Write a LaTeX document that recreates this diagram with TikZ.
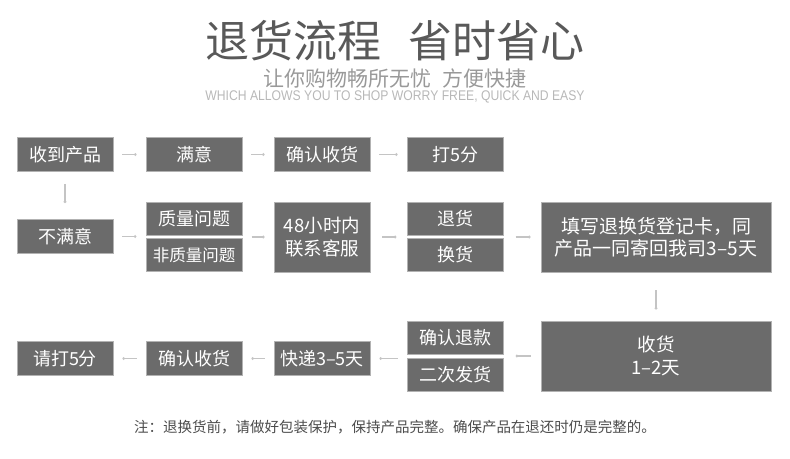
\documentclass[tikz,border=0pt]{standalone}
\usepackage{fontspec}
\newfontfamily\cjk{Noto Sans CJK SC}
\newfontfamily\engfont[FakeStretch=0.87]{Liberation Sans}
\usetikzlibrary{arrows.meta,fit}
\definecolor{boxgray}{HTML}{6B6B6B}
\definecolor{linegray}{HTML}{C4C4C4}
\tikzset{
  flowbox/.style={draw=black!30, line width=0.6pt, fill=boxgray, text=white,
    minimum width=96pt, minimum height=34pt, inner sep=0pt, align=center,
    font=\cjk\fontsize{18}{23}\selectfont},
  widebox/.style={flowbox, minimum width=230pt, minimum height=70pt,
    font=\cjk\fontsize{19}{22}\selectfont},
  link/.style={draw=linegray, line width=1.1pt,
    -{Straight Barb[length=1pt,width=2.5pt]}, shorten <=9pt, shorten >=9pt},
}

\begin{document}
\begin{tikzpicture}[x=1pt,y=-1pt]
\useasboundingbox (0,0) rectangle (790,458);
% heading
\node[text=black!65, font=\cjk\fontsize{44}{44}\selectfont] (title) at (395,41) {退货流程\hspace{28pt}省时省心};
\node[text=black!40, font=\cjk\fontsize{21}{21}\selectfont] (subtitle) at (395,78) {让你购物畅所无忧\hspace{12pt}方便快捷};
\node[text=black!28, font=\engfont\fontsize{14}{14}\selectfont] (english) at (395,97) {WHICH ALLOWS YOU TO SHOP WORRY FREE, QUICK AND EASY};

% row 1
\node[flowbox] (receive) at (65,154.5) {收到产品};
\node[flowbox] (satisfied) at (194,154.5) {满意};
\node[flowbox] (confirmA) at (322,154.5) {确认收货};
\node[flowbox] (rateA) at (455,154.5) {打5分};

% row 2
\node[flowbox] (unsatisfied) at (65,236.5) {不满意};
\node[flowbox, minimum height=33pt] (quality) at (194,218.5) {质量问题};
\node[flowbox, minimum height=33pt, font=\cjk\fontsize{16.5}{20}\selectfont] (nonquality) at (194,255) {非质量问题};
\node[flowbox, minimum height=70pt, font=\cjk\fontsize{18.5}{23}\selectfont] (contact) at (322,237) {48小时内\\联系客服};
\node[flowbox, minimum height=33pt] (refund) at (455,218.5) {退货};
\node[flowbox, minimum height=33pt] (exchange) at (455,255) {换货};
\node[widebox] (card) at (656,237) {填写退换货登记卡，同\\产品一同寄回我司3–5天};
\node[fit=(quality)(nonquality), inner sep=0pt] (issue) {};
\node[fit=(refund)(exchange), inner sep=0pt] (choice) {};

% row 3
\node[flowbox] (rateB) at (65,358.5) {请打5分};
\node[flowbox] (confirmB) at (194,358.5) {确认收货};
\node[flowbox] (express) at (322,358.5) {快递3–5天};
\node[flowbox, minimum height=33pt] (confirmRefund) at (455,337.5) {确认退款};
\node[flowbox, minimum height=33pt] (resend) at (455,374.5) {二次发货};
\node[widebox, font=\cjk\fontsize{18.5}{23}\selectfont] (arrival) at (656,356) {收货\\1–2天};
\node[fit=(confirmRefund)(resend), inner sep=0pt] (outcome) {};

% connectors
\draw[link] (receive) -- (satisfied);
\draw[link] (satisfied) -- (confirmA);
\draw[link] (confirmA) -- (rateA);
\draw[link, shorten <=12pt, shorten >=16pt] (receive) -- (unsatisfied);
\draw[link] (unsatisfied.east) -- (issue.west |- unsatisfied.east);
\draw[link] (issue.east |- contact.west) -- (contact.west);
\draw[link, shorten <=12pt, shorten >=10pt] (contact.east) -- (choice.west |- contact.east);
\draw[link, shorten <=12pt, shorten >=10pt] (choice.east |- card.west) -- (card.west);
\draw[link, shorten <=18pt, shorten >=11pt] (card) -- (arrival);
\draw[link, shorten <=10pt, shorten >=12pt] (arrival.west) -- (outcome.east |- arrival.west);
\draw[link] (outcome.west |- express.east) -- (express.east);
\draw[link] (express) -- (confirmB);
\draw[link] (confirmB) -- (rateB);

% note
\node[text=black!70, font=\cjk\fontsize{14.5}{16}\selectfont] (note) at (395,427) {注：退换货前，请做好包装保护，保持产品完整。确保产品在退还时仍是完整的。};
\end{tikzpicture}
\end{document}
